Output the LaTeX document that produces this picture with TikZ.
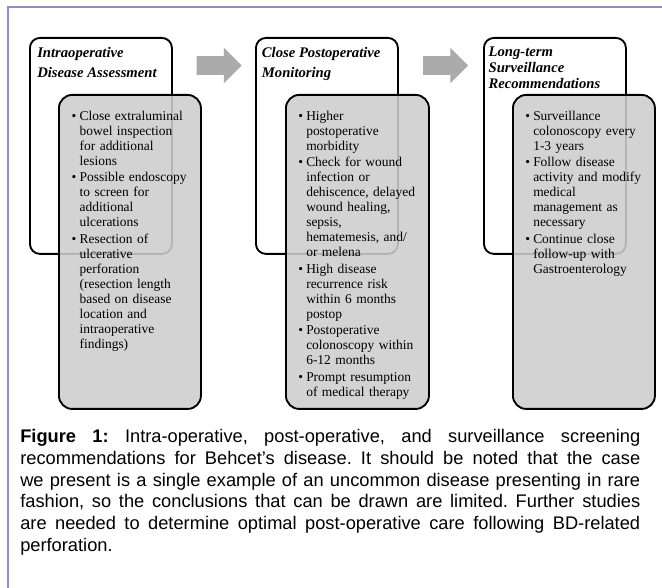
\documentclass[tikz,border=0pt]{standalone}
\usepackage{fontspec}
\setmainfont{Liberation Serif}
\newfontfamily\capfont{Liberation Sans}
\usepackage{xcolor}
\usetikzlibrary{positioning,shapes.arrows}
\definecolor{frame}{HTML}{9B86C6}
\definecolor{panel}{HTML}{CDCDCD}
\definecolor{arrowgray}{HTML}{ABABAB}
\frenchspacing
\newcommand{\bitem}{\par\hangindent=6pt\hangafter=1\noindent\makebox[6pt][l]{\textbullet}}
\newcommand{\nl}{\newline}
\tikzset{
  wbox/.style={draw=black, line width=1.4pt, fill=white, rounded corners=7.5pt,
    minimum width=106.5pt, minimum height=162pt, inner sep=0pt, anchor=north west},
  gbox/.style={draw=black, line width=1.4pt, fill=panel, fill opacity=0.88, draw opacity=1,
    rounded corners=10pt, minimum width=106.5pt, minimum height=235.5pt, inner sep=0pt, anchor=north west},
  head/.style={font=\fontsize{11pt}{12pt}\selectfont\bfseries\itshape, align=left,
    inner sep=0pt, anchor=north west},
  body/.style={font=\fontsize{10.1pt}{11.25pt}\selectfont, text width=95pt, align=left,
    inner sep=0pt, anchor=north west, execute at begin node={\setlength{\parskip}{1.2pt}}},
  blockarrow/.style={single arrow, fill=arrowgray, draw=none, inner xsep=0pt, inner ysep=6.75pt,
    minimum height=33.75pt, minimum width=26.25pt, single arrow head extend=6.4pt},
  frameline/.style={draw=frame, line width=1.1pt},
}
\begin{document}
\begin{tikzpicture}[x=0.75pt,y=-0.75pt]
  \useasboundingbox (0,0) rectangle (662,588);
  \fill[white] (0,0) rectangle (662,588);

  % header boxes
  \node[wbox] (w1) at (29,37) {};
  \node[wbox] (w2) at (255,37) {};
  \node[wbox] (w3) at (483,37) {};
  \node[head] (h1) at ([xshift=6pt,yshift=-7.5pt]w1.north west) {Intraoperative\\[3pt]Disease Assessment};
  \node[head] (h2) at ([xshift=5pt,yshift=-7.5pt]w2.north west) {Close Postoperative\\[3pt]Monitoring};
  \node[head] (h3) at ([xshift=4pt,yshift=-7.5pt]w3.north west) {Long-term\\Surveillance\\Recommendations};

  % arrows
  \node[blockarrow] (a1) at (214.5,65.5) {};
  \node[blockarrow] (a2) at (441,65.5) {};

  % detail boxes
  \node[gbox] (g1) at (58,94) {};
  \node[gbox, minimum width=107.25pt] (g2) at (285,94) {};
  \node[gbox] (g3) at (512,94) {};

  \node[body] (b1) at ([xshift=10pt,yshift=-7pt]g1.north west) {%
    \bitem Close extraluminal\nl bowel inspection\nl for additional\nl lesions
    \bitem Possible endoscopy\nl to screen for\nl additional\nl ulcerations
    \bitem Resection of\nl ulcerative\nl perforation\nl (resection length\nl based on disease\nl location and\nl intraoperative\nl findings)\par};
  \node[body] (b2) at ([xshift=9.75pt,yshift=-7pt]g2.north west) {%
    \bitem Higher\nl postoperative\nl morbidity
    \bitem Check for wound\nl infection or\nl dehiscence, delayed\nl wound healing,\nl sepsis,\nl hematemesis, and/\nl or melena
    \bitem High disease\nl recurrence risk\nl within 6 months\nl postop
    \bitem Postoperative\nl colonoscopy within\nl 6-12 months
    \bitem Prompt resumption\nl of medical therapy\par};
  \node[body] (b3) at ([xshift=9.75pt,yshift=-7pt]g3.north west) {%
    \bitem Surveillance\nl colonoscopy every\nl 1-3 years
    \bitem Follow disease\nl activity and modify\nl medical\nl management as\nl necessary
    \bitem Continue close\nl follow-up with\nl Gastroenterology\par};

  % caption
  \node[font=\capfont\fontsize{13.7pt}{16.35pt}\selectfont, text width=465pt, align=justify,
    inner sep=0pt, anchor=north west] (cap) at (20,429) {%
    \textbf{Figure 1:} Intra-operative, post-operative, and surveillance screening\linebreak
    recommendations for Behcet’s disease. It should be noted that the case\linebreak
    we present is a single example of an uncommon disease presenting in rare\linebreak
    fashion, so the conclusions that can be drawn are limited. Further studies\linebreak
    are needed to determine optimal post-operative care following BD-related\linebreak
    perforation.};

  % frame
  \draw[frameline] (662,7) -- (8,7) -- (8,588);
\end{tikzpicture}
\end{document}
